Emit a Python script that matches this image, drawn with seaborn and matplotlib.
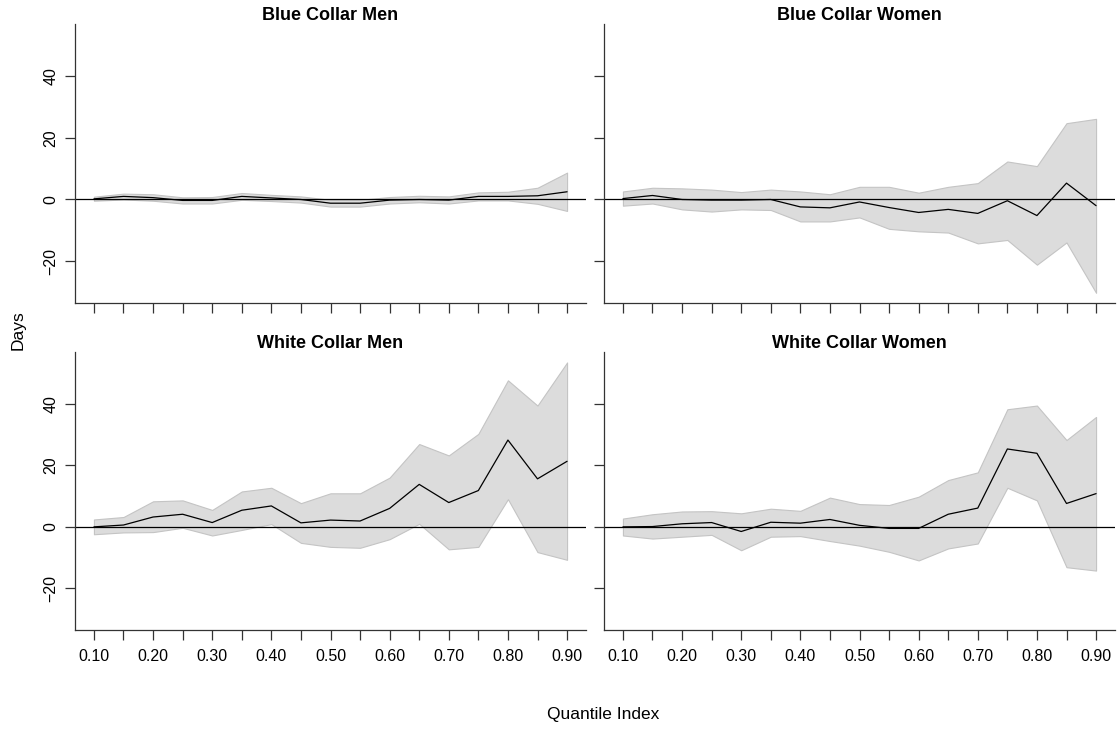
import numpy as np
import pandas as pd
import matplotlib
matplotlib.use("Agg")
import matplotlib.pyplot as plt
import seaborn as sns

sns.set_theme(style="ticks")
plt.rcParams['font.family'] = ['Liberation Sans', 'DejaVu Sans']
plt.rcParams['text.color'] = 'black'
plt.rcParams['axes.labelcolor'] = 'black'

quantiles = [0.10, 0.15, 0.20, 0.25, 0.30, 0.35, 0.40, 0.45, 0.50,
             0.55, 0.60, 0.65, 0.70, 0.75, 0.80, 0.85, 0.90]
panel_titles = ["Blue Collar Men", "Blue Collar Women",
                "White Collar Men", "White Collar Women"]

bcm_est = [0.2, 1.0, 0.6, -0.3, -0.3, 1.0, 0.5, 0.0, -1.2, -1.2, -0.2, 0.0, -0.2, 1.0, 1.0, 1.2, 2.5]
bcm_hi = [0.9, 1.9, 1.7, 0.7, 0.8, 2.1, 1.5, 1.0, -0.1, -0.1, 0.8, 1.2, 1.0, 2.3, 2.5, 3.8, 8.7]
bcm_lo = [-0.4, 0.0, -0.4, -1.3, -1.3, -0.1, -0.5, -1.0, -2.3, -2.3, -1.3, -0.9, -1.3, -0.3, -0.3, -1.4, -3.7]

bcw_est = [0.3, 1.3, 0.0, -0.2, -0.2, 0.0, -2.4, -2.7, -0.8, -2.6, -4.2, -3.2, -4.5, -0.4, -5.2, 5.3, -2.0]
bcw_hi = [2.6, 3.8, 3.6, 3.2, 2.4, 3.2, 2.6, 1.7, 4.1, 4.1, 2.2, 4.1, 5.3, 12.3, 10.8, 24.7, 26.1]
bcw_lo = [-2.0, -1.3, -3.2, -3.9, -3.2, -3.4, -7.1, -7.1, -5.8, -9.5, -10.3, -10.7, -14.2, -13.1, -21.1, -13.9, -30.2]

wcm_est = [0.0, 0.6, 3.2, 4.1, 1.4, 5.4, 6.8, 1.3, 2.2, 1.9, 6.0, 13.8, 7.9, 11.8, 28.2, 15.6, 21.3]
wcm_hi = [2.4, 3.2, 8.3, 8.6, 5.5, 11.5, 12.7, 7.7, 10.9, 10.9, 16.0, 26.9, 23.2, 30.2, 47.6, 39.4, 53.4]
wcm_lo = [-2.4, -1.8, -1.7, -0.3, -2.8, -1.0, 0.9, -5.2, -6.5, -6.8, -4.0, 1.0, -7.3, -6.5, 9.0, -8.2, -10.7]

wcw_est = [0.0, 0.1, 1.0, 1.4, -1.5, 1.5, 1.2, 2.4, 0.5, -0.5, -0.5, 4.1, 6.1, 25.3, 23.9, 7.6, 10.8]
wcw_hi = [2.7, 4.1, 5.0, 5.1, 4.4, 5.9, 5.2, 9.5, 7.4, 7.1, 9.8, 15.2, 17.7, 38.2, 39.4, 28.2, 35.7]
wcw_lo = [-2.8, -3.8, -3.2, -2.6, -7.6, -3.2, -3.0, -4.6, -6.1, -8.1, -10.9, -7.0, -5.4, 12.7, 8.6, -13.1, -14.2]

series = [(bcm_est, bcm_lo, bcm_hi), (bcw_est, bcw_lo, bcw_hi),
          (wcm_est, wcm_lo, wcm_hi), (wcw_est, wcw_lo, wcw_hi)]

x_tick_labels = ["0.10", "0.20", "0.30", "0.40", "0.50", "0.60", "0.70", "0.80", "0.90"]
y_ticks = [-20, 0, 20, 40]

fig = plt.figure(figsize=(11.19, 7.29), dpi=100)
W, H = 1119, 729
boxes = [(75, 24, 586, 303), (604, 24, 1115, 303),
         (75, 352, 586, 630), (604, 352, 1115, 630)]

for i, (title, (est, lo, hi), (x0, y0, x1, y1)) in enumerate(zip(panel_titles, series, boxes)):
    ax = fig.add_axes([x0 / W, 1 - y1 / H, (x1 - x0) / W, (y1 - y0) / H])
    df = pd.DataFrame({"q": quantiles, "est": est, "lo": lo, "hi": hi})
    ax.fill_between(df["q"], df["lo"], df["hi"], facecolor="#DCDCDC",
                    edgecolor="#C4C4C4", linewidth=0.8)
    ax.axhline(0, color="black", linewidth=0.9)
    sns.lineplot(data=df, x="q", y="est", ax=ax, color="black", linewidth=0.9)
    ax.set_xlim(0.068, 0.932)
    ax.set_ylim(-33.5, 56.8)
    ax.set_xticks(quantiles)
    labels = []
    for q in quantiles:
        s = f"{q:.2f}"
        labels.append(s if s in x_tick_labels else "")
    if i >= 2:
        ax.set_xticklabels(labels)
    else:
        ax.set_xticklabels([])
    ax.set_yticks(y_ticks)
    if i % 2 == 0:
        ax.set_yticklabels([str(v) if v >= 0 else "\u2212" + str(-v) for v in y_ticks],
                           rotation=90, va="center")
    else:
        ax.set_yticklabels([])
    ax.set_xlabel("")
    ax.set_ylabel("")
    for s in ["top", "right"]:
        ax.spines[s].set_visible(False)
    for s in ["left", "bottom"]:
        ax.spines[s].set_color("#333333")
        ax.spines[s].set_linewidth(0.9)
    ax.tick_params(axis="x", direction="out", length=7, width=0.9,
                   color="#333333", labelsize=11.5, labelcolor="black", pad=7)
    ax.tick_params(axis="y", direction="out", length=7, width=0.9,
                   color="#333333", labelsize=11.5, labelcolor="black", pad=5)
    ax.set_title(title, fontsize=13, fontweight="bold", pad=2, color="black")
    ax.set_facecolor("white")

fig.text(18 / W, 1 - 330 / H, "Days", rotation=90, ha="center", va="center", fontsize=12.5)
fig.text(603 / W, 1 - 715 / H, "Quantile Index", ha="center", va="center", fontsize=12.5)

fig.savefig("out.png", dpi=100, facecolor="white")
